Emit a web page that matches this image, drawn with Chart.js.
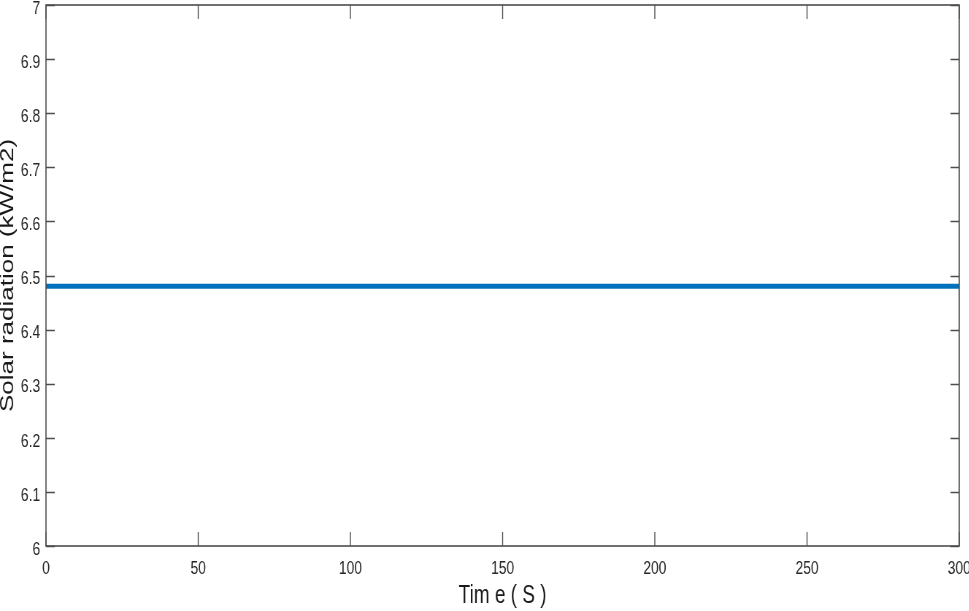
<!DOCTYPE html>
<html>
<head>
<meta charset="utf-8">
<script src="https://cdn.jsdelivr.net/npm/chart.js@4.4.1/dist/chart.umd.min.js"></script>
<style>
  body { margin: 0; background: #fff; overflow: hidden; }
  #wrap { width: 969px; height: 611px; overflow: hidden; }
  /* la figura original esta comprimida en horizontal */
  #solarChart { transform: scaleX(0.73); transform-origin: 0 0; }
</style>
</head>
<body>
<div id="wrap"><canvas id="solarChart" width="1345" height="611"></canvas></div>
<script>
// datos del grafico
const timeValues = [0, 300];             // Tiempo (s)
const radiationValues = [6.48, 6.48];    // Radiacion solar (kW/m2)
const xTicks = [0, 50, 100, 150, 200, 250, 300];
const yTicks = [6, 6.1, 6.2, 6.3, 6.4, 6.5, 6.6, 6.7, 6.8, 6.9, 7];

const mainFont = '"Liberation Sans", Arial, Helvetica, sans-serif';
const axisColor = '#4d4d4d';

// caja y marcas hacia adentro (estilo MATLAB)
const boxPlugin = {
    id: 'boxTicks',
    afterDraw(chart) {
        const ctx = chart.ctx;
        const a = chart.chartArea;
        const xs = chart.scales.x;
        const ys = chart.scales.y;
        ctx.save();
        ctx.strokeStyle = axisColor;
        ctx.lineWidth = 1.4;
        ctx.beginPath();
        xTicks.forEach(v => {
            const px = xs.getPixelForValue(v);
            ctx.moveTo(px, a.bottom); ctx.lineTo(px, a.bottom - 14);
            ctx.moveTo(px, a.top); ctx.lineTo(px, a.top + 14);
        });
        yTicks.forEach(v => {
            const py = Math.round(ys.getPixelForValue(v)) + 0.5;
            ctx.moveTo(a.left, py); ctx.lineTo(a.left + 12, py);
            ctx.moveTo(a.right, py); ctx.lineTo(a.right - 12, py);
        });
        ctx.stroke();
        ctx.lineWidth = 1.6;
        ctx.strokeRect(a.left, a.top, a.right - a.left, a.bottom - a.top);
        ctx.restore();
    }
};

function noPad(s) {
    s.paddingLeft = 0; s.paddingRight = 0; s.paddingTop = 0; s.paddingBottom = 0;
}

const ctx = document.getElementById('solarChart').getContext('2d');
const solarChart = new Chart(ctx, {
    type: 'line',
    data: {
        datasets: [{
            data: timeValues.map((t, i) => ({ x: t, y: radiationValues[i] })),
            borderColor: '#0072BD',
            borderWidth: 5,
            pointRadius: 0,
            fill: false,
            tension: 0
        }]
    },
    options: {
        responsive: false,
        animation: false,
        devicePixelRatio: 1,
        layout: { padding: { left: 0, right: 31, top: 5, bottom: 0 } },
        plugins: { legend: { display: false }, tooltip: { enabled: false } },
        scales: {
            x: {
                type: 'linear',
                min: 0,
                max: 300,
                afterBuildTicks: s => { s.ticks = xTicks.map(v => ({ value: v })); },
                afterFit: s => { s.height = 65; noPad(s); },
                grid: { display: false, drawTicks: false },
                border: { display: false },
                ticks: {
                    padding: 11,
                    maxRotation: 0,
                    color: '#262626',
                    font: { family: mainFont, size: 19 }
                },
                title: {
                    display: true,
                    text: 'Tim e ( S )',
                    color: '#1a1a1a',
                    font: { family: mainFont, size: 26, lineHeight: 1 },
                    padding: { top: 0, bottom: 2 }
                }
            },
            y: {
                min: 6,
                max: 7,
                afterBuildTicks: s => { s.ticks = yTicks.map(v => ({ value: v })); },
                afterFit: s => { s.width = 63; noPad(s); },
                grid: { display: false, drawTicks: false },
                border: { display: false },
                ticks: {
                    padding: 8,
                    labelOffset: 3.5,
                    color: '#262626',
                    font: { family: mainFont, size: 19 },
                    callback: v => String(Math.round(v * 10) / 10)
                },
                title: {
                    display: true,
                    text: 'Solar radiation (kW/m2)',
                    color: '#1a1a1a',
                    font: { family: mainFont, size: 26, lineHeight: 0.85 },
                    padding: { top: 0, bottom: 0 }
                }
            }
        }
    },
    plugins: [boxPlugin]
});
</script>
</body>
</html>
